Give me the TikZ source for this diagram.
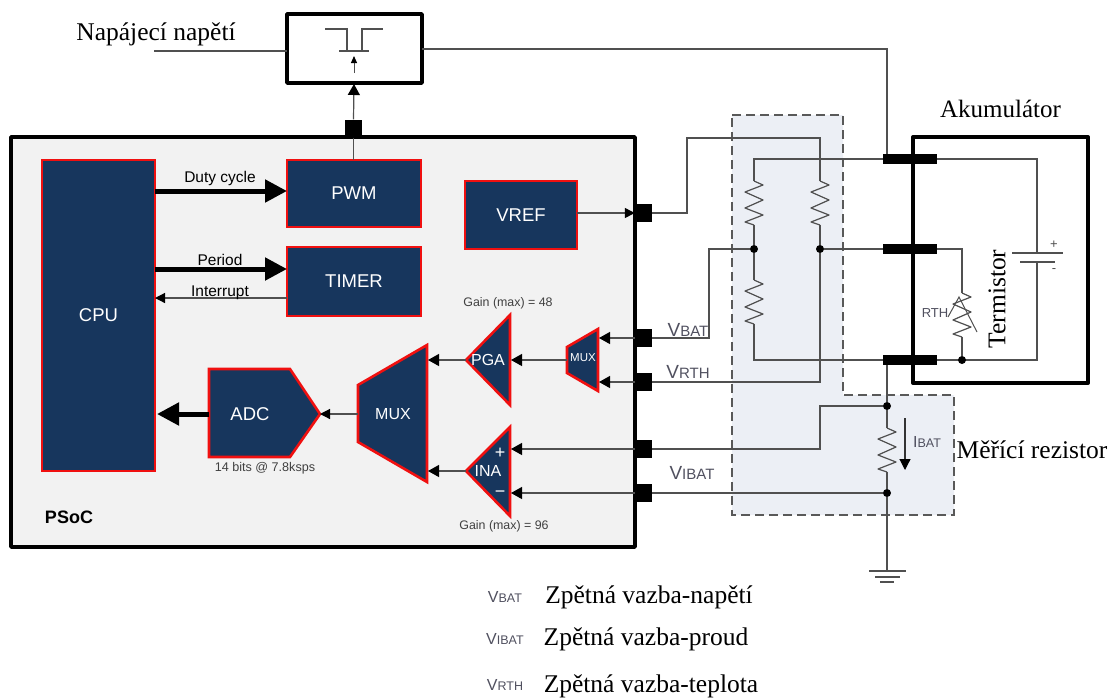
\documentclass[tikz,border=0pt]{standalone}
\usepackage{fontspec}
\setmainfont{Liberation Serif}
\setsansfont{Liberation Sans}
\usetikzlibrary{arrows.meta,calc}
\definecolor{navy}{HTML}{17365D}
\definecolor{redb}{HTML}{F01010}
\definecolor{wire}{HTML}{505050}
\definecolor{panel}{HTML}{F2F2F2}
\definecolor{zone}{HTML}{ECEFF5}
\definecolor{labc}{HTML}{50505F}
\newcommand{\fsz}[1]{\fontsize{#1}{#1}\selectfont}
\newcommand{\sclab}[2]{{\fsz{16}#1}{\fsz{12.5}#2}}
\newcommand{\sclabb}[2]{{\fsz{19}#1}{\fsz{15}#2}}
\tikzset{
  x=1pt,y=-1pt,
  wireline/.style={draw=wire,line width=1.2pt,line join=miter},
  blockbox/.style={draw=redb,fill=navy,line width=2.6pt,text=white,font=\sffamily\fsz{18.5},inner sep=0pt,outer sep=0pt,anchor=north west},
  polyblock/.style={draw=redb,fill=navy,line width=2.6pt,line join=miter},
  polytext/.style={text=white,font=\sffamily\fsz{16},inner sep=0pt},
  pin/.style={fill=black,draw=none,minimum width=17pt,minimum height=18pt,inner sep=0pt},
  bar/.style={fill=black,draw=none,minimum width=54pt,minimum height=10pt,inner sep=0pt},
  dotn/.style={circle,fill=black,draw=none,minimum size=8pt,inner sep=0pt},
  heavybox/.style={draw=black,line width=3.5pt,line join=round},
  arrowthin/.style={wireline,-{Triangle[length=11pt,width=12pt,color=black]}},
  arrowsmall/.style={wireline,-{Triangle[length=10pt,width=10pt,color=black]}},
  arrowthick/.style={draw=black,line width=5pt,-{Triangle[length=22pt,width=22pt]}},
  note/.style={inner sep=0pt,text=black!75},
  siglab/.style={font=\sffamily,text=labc,inner sep=0pt},
  serif/.style={font=\rmfamily\fsz{25.5},text=black,inner sep=0pt},
  resistor/.pic={\draw[wireline,line join=round] (0,0)--(9,4)--(-9,11)--(9,19)--(-9,27)--(9,34)--(-9,41)--(0,44);},
}
\begin{document}
\begin{tikzpicture}
\useasboundingbox (0,0) rectangle (1111,697);
% shaded zone
\path[fill=zone] (732,115)--(843,115)--(843,395)--(954,395)--(954,515)--(732,515)--cycle;
% PSoC panel and boxes
\draw[heavybox,fill=panel] (11,137) rectangle (635,547);
\draw[heavybox,fill=white,line width=4pt] (913,137) rectangle (1088,383);
\draw[heavybox,fill=white] (287,14) rectangle (422,83);
% dashed outline
\draw[draw=black!65,line width=1.3pt,dash pattern=on 9pt off 5pt] (732,115)--(843,115)--(843,395)--(954,395)--(954,515)--(732,515)--cycle;
% blocks
\node[blockbox,minimum width=113pt,minimum height=311pt] (cpu) at (42,160) {CPU};
\node[blockbox,minimum width=134pt,minimum height=67pt] (pwm) at (287,160) {PWM};
\node[blockbox,minimum width=134pt,minimum height=69pt] (timer) at (287,247) {TIMER};
\node[blockbox,minimum width=112pt,minimum height=68pt] (vref) at (465,181) {VREF};
\draw[polyblock] (209,369)--(290,369)--(320,414)--(290,457)--(209,457)--cycle;
\draw[polyblock] (358,385)--(427,345)--(427,482)--(358,442)--cycle;
\draw[polyblock] (466,360)--(510,315)--(510,405)--cycle;
\draw[polyblock] (466,471)--(510,427)--(510,516)--cycle;
\draw[polyblock] (567,347)--(598,329)--(598,391)--(567,373)--cycle;
\node[polytext,font=\sffamily\fsz{18.5}] (adcl) at (250,414) {ADC};
\node[polytext] (muxl) at (393,414) {MUX};
\node[polytext] (pgal) at (488,360) {PGA};
\node[polytext] (inal) at (488,471) {INA};
\node[polytext,font=\sffamily\fsz{11.5}] (smuxl) at (583,358) {MUX};
\node[polytext,font=\sffamily\fsz{18}] (plus) at (500,453) {+};
\node[polytext,font=\sffamily\fsz{18}] (minus) at (500,494) {−};
% anchor coordinates
\coordinate (adcin) at (320,414);
\coordinate (adcout) at (209,414);
\coordinate (cpuadc) at (157,414);
\coordinate (muxout) at (358,414);
\coordinate (muxa) at (428,360);
\coordinate (muxb) at (428,471);
\coordinate (pgaout) at (466,360);
\coordinate (pgain) at (511,360);
\coordinate (inaout) at (466,471);
\coordinate (inap) at (511,449);
\coordinate (inam) at (511,493);
\coordinate (smuxout) at (567,360);
\coordinate (smuxa) at (599,338);
\coordinate (smuxb) at (599,382);
\coordinate (gatein) at (354,84);
% pins
\node[pin] (pv) at (643.5,213) {};
\node[pin] (p1) at (643.5,338) {};
\node[pin] (p2) at (643.5,382) {};
\node[pin] (p3) at (643.5,449) {};
\node[pin] (p4) at (643.5,493) {};
\node[pin] (ptop) at (353.5,128.5) {};
\node[bar] (t1) at (910,159) {};
\node[bar] (t2) at (910,249) {};
\node[bar] (t3) at (910,360) {};
% black wall of battery over terminals
\draw[draw=black,line width=4pt] (913,137)--(913,383);
% internal connectors
\draw[arrowthick] (cpu.east |- 0,191)--(pwm.west |- 0,191);
\draw[arrowthick] (cpu.east |- 0,269)--(timer.west |- 0,269);
\draw[arrowsmall] (timer.west |- 0,298)--(cpu.east |- 0,298);
\draw[arrowthick] (adcout)--(cpuadc);
\draw[arrowsmall] (muxout)--(adcin);
\draw[arrowthin] (pgaout)--(muxa);
\draw[arrowthin] (inaout)--(muxb);
\draw[arrowthin] (smuxout)--(pgain);
\draw[arrowthin] (p1.west)--(smuxa);
\draw[arrowthin] (p2.west)--(smuxb);
\draw[arrowthin] (p3.west)--(inap);
\draw[arrowthin] (p4.west)--(inam);
\draw[arrowsmall] (vref.east |- pv)--(pv.west);
\draw[arrowthin] (ptop.north)--(gatein);
\draw[wireline] (ptop.south)--(pwm.north -| ptop);
% transistor
\coordinate (s1) at (325,29);
\coordinate (s2) at (347,29);
\coordinate (s3) at (347,51);
\coordinate (d1) at (362,51);
\coordinate (d2) at (362,29);
\coordinate (d3) at (383,29);
\coordinate (g1) at (339,51);
\coordinate (g2) at (369,51);
\coordinate (ga) at (354,73);
\coordinate (gb) at (354,56);
\draw[wireline] (s1)--(s2)--(s3);
\draw[wireline] (d1)--(d2)--(d3);
\draw[wireline] (g1)--(g2);
\draw[wireline,line width=1pt,-{Triangle[length=7pt,width=6pt,color=black]}] (ga)--(gb);
% supply wires
\coordinate (sup) at (154,51);
\coordinate (swin) at (287,51);
\coordinate (swout) at (422,49);
\coordinate (swk) at (887,49);
\draw[wireline] (sup)--(swin);
\draw[wireline] (swout)--(swk)--(t1.north -| swk);
% divider
\coordinate (ltop) at (754,159);
\coordinate (lbot) at (754,360);
\coordinate (rtopk) at (687,138);
\coordinate (rtop) at (820,138);
\coordinate (rbot) at (820,382);
\node[dotn] (jl) at (754,249) {};
\node[dotn] (jr) at (820,249) {};
\draw[wireline] (t1.west)--(ltop)--(754,181);
\pic at (754,181) {resistor};
\draw[wireline] (754,225)--(jl)--(754,280);
\pic at (754,280) {resistor};
\draw[wireline] (754,324)--(lbot)--(t3.west);
\draw[wireline] (pv.east)--(rtopk |- pv)--(rtopk)--(rtop)--(820,181);
\pic at (820,181) {resistor};
\draw[wireline] (820,225)--(jr)--(rbot)--(p2.east);
\draw[wireline] (jr)--(t2.west);
\draw[wireline] (jl)--(709,249)--(709,338)--(p1.east);
% battery internals
\coordinate (bt) at (1037,159);
\coordinate (bb) at (1037,360);
\draw[wireline] (t1.east)--(bt)--(1037,253);
\draw[wireline] (1037,262)--(bb)--(t3.east);
\draw[wireline] (1012,253)--(1063,253);
\draw[wireline] (1020,262)--(1055,262);
\node[font=\sffamily\fsz{13},text=wire,inner sep=0pt] (bplus) at (1054,245) {+};
\node[font=\sffamily\fsz{13},text=wire,inner sep=0pt] (bminus) at (1054,271) {-};
% thermistor
\node[dotn] (jth) at (962,360) {};
\draw[wireline] (t2.east)--(962,249)--(962,293);
\pic at (962,293) {resistor};
\draw[wireline] (962,337)--(jth);
\draw[wireline,line width=1pt] (948,317)--(959,297)--(977,332);
% sense resistor
\node[dotn] (js1) at (887,406) {};
\node[dotn] (js2) at (887,493) {};
\coordinate (gnd) at (887,571);
\draw[wireline] (t3.south -| js1)--(js1)--(887,428);
\pic at (887,428) {resistor};
\draw[wireline] (887,472)--(js2)--(gnd);
\draw[wireline] (js1)--(820,406)--(820,449)--(p3.east);
\draw[wireline] (js2)--(p4.east);
\draw[wireline] (869,571)--(906,571);
\draw[wireline] (875,577)--(900,577);
\draw[wireline] (880,582)--(894,582);
\coordinate (ia) at (905,418);
\coordinate (ib) at (905,470);
\draw[draw=black!80,line width=1.2pt,-{Triangle[length=11pt,width=11pt,color=black]}] (ia)--(ib);
% labels
\node[font=\sffamily\fsz{15.5},inner sep=0pt] (l1) at (220,178) {Duty cycle};
\node[font=\sffamily\fsz{15.5},inner sep=0pt] (l2) at (220,260) {Period};
\node[font=\sffamily\fsz{15.5},inner sep=0pt] (l3) at (220,293) {Interrupt};
\node[note,font=\sffamily\fsz{12.4}] (g48) at (508,303) {Gain (max) = 48};
\node[note,font=\sffamily\fsz{12.4}] (g96) at (504,526) {Gain (max) = 96};
\node[note,font=\sffamily\fsz{12.6}] (bits) at (265,468) {14 bits @ 7.8ksps};
\node[font=\sffamily\bfseries\fsz{18},inner sep=0pt] (psoc) at (69,517) {PSoC};
\node[siglab] (vb) at (688,330) {\sclabb{V}{BAT}};
\node[siglab] (vr) at (688,372) {\sclabb{V}{RTH}};
\node[siglab] (vi) at (692,473) {\sclabb{V}{IBAT}};
\node[siglab,font=\sffamily\fsz{13}] (rth) at (935,313) {RTH};
\node[siglab] (ib2) at (927,442) {\sclab{I}{BAT}};
\node[serif] (nap) at (156,34) {Napájecí napětí};
\node[serif,font=\rmfamily\fsz{25}] (aku) at (1000.5,109) {Akumulátor};
\node[serif,rotate=90] (ter) at (997,299) {Termistor};
\node[serif] (mer) at (1032,450) {Měřící rezistor};
\node[siglab] (k1) at (505,597) {\sclab{V}{BAT}};
\node[siglab] (k2) at (505,639) {\sclab{V}{IBAT}};
\node[siglab] (k3) at (505,685) {\sclab{V}{RTH}};
\node[serif] (z1) at (649,597) {Zpětná vazba-napětí};
\node[serif] (z2) at (646,639) {Zpětná vazba-proud};
\node[serif] (z3) at (651,686) {Zpětná vazba-teplota};
\end{tikzpicture}
\end{document}
